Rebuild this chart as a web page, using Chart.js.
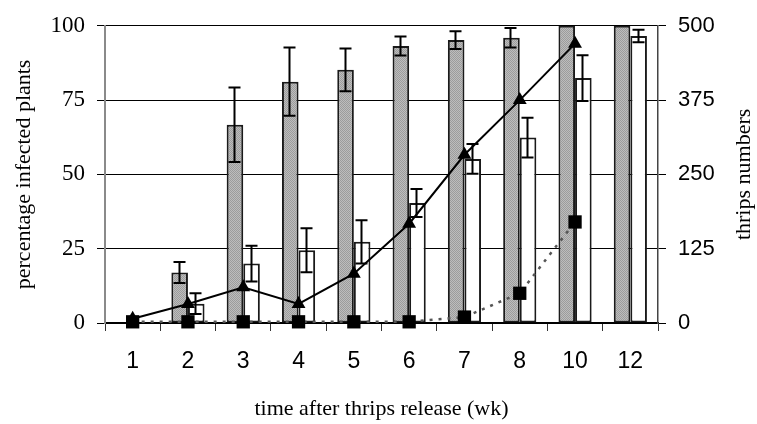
<!DOCTYPE html>
<html>
<head>
<meta charset="utf-8">
<script src="https://cdn.jsdelivr.net/npm/chart.js@4.4.1/dist/chart.umd.min.js"></script>
<style>
  html, body { margin: 0; padding: 0; background: #fff; }
  #wrap { width: 757px; height: 424px; }
</style>
</head>
<body>
<div id="wrap"><canvas id="c" width="757" height="424"></canvas></div>
<script>
// ---- data ----
const categories = ['1', '2', '3', '4', '5', '6', '7', '8', '10', '12'];
const infectedGrey = [0, 17, 66.7, 81.2, 85.2, 93.2, 95.2, 96, 100, 100];
const infectedGreyErr = [0, 3.5, 12.5, 11.5, 7.2, 3.2, 3, 3.3, 0, 0];
const infectedWhite = [0, 6.5, 20, 24.5, 27.3, 40.4, 55.2, 62.4, 82.4, 96.6];
const infectedWhiteErr = [0, 3.5, 6, 7.4, 7.3, 4.7, 5, 6.7, 7.7, 2.1];
const thripsTriangle = [7, 32, 60, 32, 83, 167, 283, 375, 470, null];
const thripsSquare = [2, 2, 2, 2, 2, 2, 10, 50, 170, null];
const leftTicks = [0, 25, 50, 75, 100];
const rightTicks = [0, 125, 250, 375, 500];
const xTitle = 'time after thrips release (wk)';
const leftTitle = 'percentage infected plants';
const rightTitle = 'thrips numbers';

// fine grey dither for the grey bars
function greyPattern() {
  const p = document.createElement('canvas');
  p.width = 2; p.height = 2;
  const g = p.getContext('2d');
  g.fillStyle = '#bdbdbd';
  g.fillRect(0, 0, 2, 2);
  g.fillStyle = '#9c9c9c';
  g.fillRect(0, 0, 1, 1);
  g.fillRect(1, 1, 1, 1);
  return g.createPattern(p, 'repeat');
}

const errorBars = {
  id: 'errorBars',
  afterDatasetDraw(chart, args) {
    const ds = chart.data.datasets[args.index];
    if (!ds.errors) return;
    const meta = args.meta;
    const ys = chart.scales[meta.yAxisID];
    const ctx = chart.ctx;
    ctx.save();
    ctx.strokeStyle = '#000';
    ctx.lineWidth = 2;
    meta.data.forEach((el, i) => {
      const e = ds.errors[i];
      const v = ds.data[i];
      if (!e || v == null) return;
      const x = Math.round(el.x) - 0.5;
      const yt = ys.getPixelForValue(v + e);
      const yb = ys.getPixelForValue(v - e);
      const cw = 6;
      ctx.beginPath();
      ctx.moveTo(x, yt); ctx.lineTo(x, yb);
      ctx.moveTo(x - cw, yt); ctx.lineTo(x + cw, yt);
      ctx.moveTo(x - cw, yb); ctx.lineTo(x + cw, yb);
      ctx.stroke();
    });
    ctx.restore();
  }
};

const rightTitlePlugin = {
  id: 'rightTitle',
  afterDraw(chart) {
    const ctx = chart.ctx;
    const a = chart.chartArea;
    ctx.save();
    ctx.font = '22px "Liberation Serif", "Times New Roman", serif';
    ctx.fillStyle = '#000';
    ctx.textAlign = 'center';
    ctx.textBaseline = 'alphabetic';
    ctx.translate(chart.width - 7, (a.top + a.bottom) / 2);
    ctx.rotate(-Math.PI / 2);
    ctx.fillText(rightTitle, 0, 0);
    ctx.restore();
  }
};

const ctx = document.getElementById('c').getContext('2d');
new Chart(ctx, {
  type: 'bar',
  data: {
    labels: categories,
    datasets: [
      {
        type: 'line', label: 'squares', data: thripsSquare, yAxisID: 'y2', order: 0,
        borderColor: '#555', borderWidth: 2.5, borderDash: [3, 6],
        pointStyle: 'rect', pointRadius: 9.4, pointBackgroundColor: '#000', pointBorderColor: '#000', pointBorderWidth: 0,
        fill: false, tension: 0, clip: false
      },
      {
        type: 'line', label: 'triangles', data: thripsTriangle, yAxisID: 'y2', order: 1,
        borderColor: '#000', borderWidth: 2,
        pointStyle: 'triangle', pointRadius: 8, pointBackgroundColor: '#000', pointBorderColor: '#000', pointBorderWidth: 0,
        fill: false, tension: 0, clip: false
      },
      {
        label: 'grey', data: infectedGrey, errors: infectedGreyErr, yAxisID: 'y', order: 2,
        backgroundColor: greyPattern(), borderColor: '#1a1a1a', borderWidth: 2, borderSkipped: false,
        categoryPercentage: 0.6, barPercentage: 1.0
      },
      {
        label: 'white', data: infectedWhite, errors: infectedWhiteErr, yAxisID: 'y', order: 2,
        backgroundColor: '#fff', borderColor: '#1a1a1a', borderWidth: 2, borderSkipped: false,
        categoryPercentage: 0.6, barPercentage: 1.0
      }
    ]
  },
  options: {
    responsive: false,
    animation: false,
    layout: { padding: { top: 23, left: 0, right: 0, bottom: 0 } },
    plugins: { legend: { display: false }, tooltip: { enabled: false } },
    scales: {
      x: {
        offset: true,
        grid: { display: true, offset: true, drawOnChartArea: false, drawTicks: true, tickLength: 8, color: '#333', lineWidth: 1 },
        border: { display: true, color: '#000', width: 1.5 },
        ticks: { color: '#000', padding: 17, font: { family: '"Liberation Sans", Arial, sans-serif', size: 23 }, maxRotation: 0, autoSkip: false },
        title: { display: true, text: xTitle, color: '#000', font: { family: '"Liberation Serif", "Times New Roman", serif', size: 22 }, padding: { top: 0, bottom: 2 } },
        afterFit(s) { s.height = 101; }
      },
      y: {
        position: 'left', min: 0, max: 100,
        afterBuildTicks(s) { s.ticks = leftTicks.map(v => ({ value: v })); },
        grid: { display: true, drawOnChartArea: true, drawTicks: true, tickLength: 8, color: '#000', lineWidth: 1 },
        border: { display: true, color: '#8a8a8a', width: 2 },
        ticks: { color: '#000', padding: 12, font: { family: '"Liberation Serif", "Times New Roman", serif', size: 23 } },
        title: { display: true, text: leftTitle, color: '#000', font: { family: '"Liberation Serif", "Times New Roman", serif', size: 22 }, padding: { top: 11, bottom: 0 } },
        afterFit(s) { s.width = 105; }
      },
      y2: {
        position: 'right', min: 0, max: 500,
        afterBuildTicks(s) { s.ticks = rightTicks.map(v => ({ value: v })); },
        grid: { display: true, drawOnChartArea: false, drawTicks: true, tickLength: 8, color: '#000', lineWidth: 1 },
        border: { display: true, color: '#444', width: 1.5 },
        ticks: { color: '#000', padding: 12, font: { family: '"Liberation Sans", Arial, sans-serif', size: 22 } },
        title: { display: false },
        afterFit(s) { s.width = 99; }
      }
    }
  },
  plugins: [errorBars, rightTitlePlugin]
});
</script>
</body>
</html>
